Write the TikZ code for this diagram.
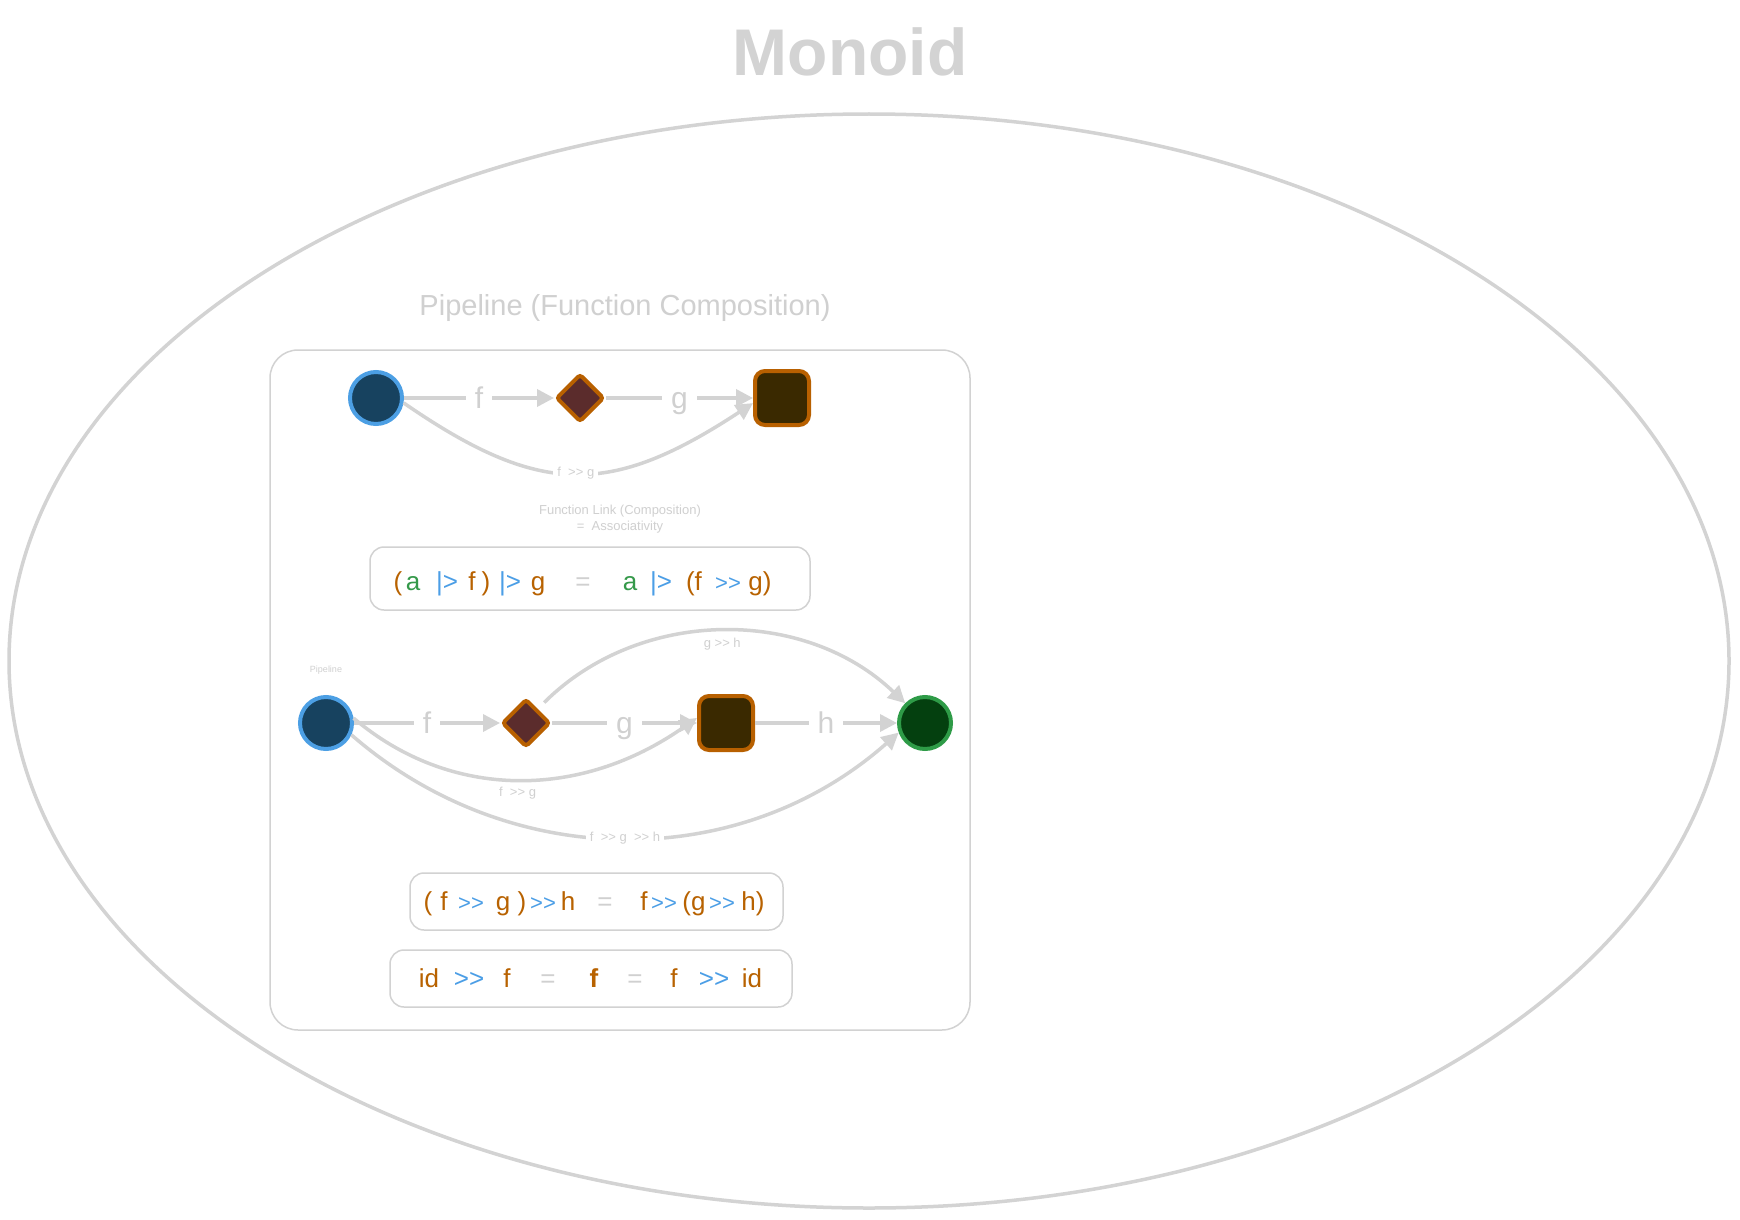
\documentclass[tikz,border=0pt]{standalone}
\usepackage{fontspec}
\setmainfont{Liberation Sans}[Ligatures=TeXOff]
\usetikzlibrary{arrows.meta,shapes.geometric}
\definecolor{lg}{HTML}{D3D3D3}
\definecolor{lgt}{HTML}{D0D0D0}
\definecolor{frameg}{HTML}{D2D2D2}
\definecolor{torange}{HTML}{B86200}
\definecolor{tgreen}{HTML}{35994A}
\definecolor{tblue}{HTML}{4B9EE6}
\newcommand\KO{\color{torange}}
\newcommand\KG{\color{tgreen}}
\newcommand\KB{\color{tblue}}
\newcommand\KE{\color{lgt}}
\newcommand\KS{\fontsize{22}{26}\selectfont}
\begin{document}
\begin{tikzpicture}[x=1pt,y=-1pt,
  outerell/.style={ellipse, draw=lg, line width=3.5pt, inner sep=0pt, minimum width=1720pt, minimum height=1094pt},
  container/.style={draw=frameg, line width=1.5pt, rounded corners=28pt},
  fbox/.style={draw=frameg, line width=1.5pt, rounded corners=14pt, minimum width=#1, inner sep=0pt},
  bcirc/.style={circle, fill=#1, line width=4pt, minimum size=52pt, inner sep=0pt},
  bluenode/.style={bcirc=HTML17425F, draw=blueb},
  greennode/.style={bcirc=greenf, draw=greenb},
  dia/.style={diamond, fill=diaf, draw=ornb, line width=4pt, minimum size=48pt, inner sep=0pt, rounded corners=3pt},
  sq/.style={rectangle, fill=sqf, draw=ornb, line width=4pt, minimum size=54pt, inner sep=0pt, rounded corners=10pt},
  conn/.style={draw=lg, line width=3.5pt, -{Triangle[length=17pt,width=17pt]}},
  elab/.style={fill=white, text=lgt, font=\fontsize{30}{34}\selectfont, inner xsep=9pt, inner ysep=0pt, text height=25pt, text depth=5pt},
  slab/.style={fill=white, text=lgt, font=\fontsize{13}{15}\selectfont, inner xsep=4pt, inner ysep=1pt},
  tok/.style={anchor=base, inner sep=0pt, font=\fontsize{26}{30}\selectfont},
]
\definecolor{blueb}{HTML}{4C9FE4}
\definecolor{HTML17425F}{HTML}{17425F}
\definecolor{greenf}{HTML}{04400F}
\definecolor{greenb}{HTML}{2E9B47}
\definecolor{diaf}{HTML}{5B2C2C}
\definecolor{sqf}{HTML}{3A2900}
\definecolor{ornb}{HTML}{B86000}
\useasboundingbox (0,0) rectangle (1740,1220);
\fill[white] (0,0) rectangle (1740,1220);

% title and outer ellipse
\node[anchor=base, text=lg, font=\fontsize{66}{70}\selectfont\bfseries] (title) at (850,76) {Monoid};
\node[outerell] (outer) at (869,661) {};

% subtitle and container
\node[anchor=base, text=lgt, font=\fontsize{29}{33}\selectfont] (sub) at (625,315) {Pipeline (Function Composition)};
\draw[container] (270,350) rectangle (970,1030);

% top pipeline
\node[bluenode] (c1) at (376,398) {};
\node[dia] (d1) at (580,398) {};
\node[sq] (s1) at (782,398) {};
\draw[conn] (c1) -- node[elab] {f} (d1);
\draw[conn] (d1) -- node[elab] {g} (s1);
\draw[conn] (c1.-10) .. controls (540,497) and (610,497) .. (s1.190)
  node[slab, pos=0.5] {f\ \ >> g};

\node[align=center, text=lgt, font=\fontsize{13}{16}\selectfont] (note) at (620,519)
  {Function Link (Composition)\\=\ \ Associativity};

% formula 1
\node[fbox=440pt, minimum height=63pt] (box1) at (590,578.5) {};
\foreach \x/\t [count=\i] in {398/{\KO(}, 413/{\KG a}, 447/{\KB|>}, 472/{\KO f}, 486/{\KO)},
   510/{\KB|>}, 538/{\KO g}, 583/{\KE=}, 630/{\KG a}, 661/{\KB|>}, 694/{\KO(f},
   728/{\KB\KS>>}, 760/{\KO g)}}
  \node[tok] (fa\i) at (\x,590) {\t};

% bottom pipeline
\node[text=lgt, font=\fontsize{9}{11}\selectfont, anchor=base] (pl) at (326,672) {Pipeline};
\node[bluenode] (c2) at (326,723) {};
\node[dia] (d2) at (526,723) {};
\node[sq] (s2) at (726,723) {};
\node[greennode] (g2) at (925,723) {};
\draw[conn] (c2) -- node[elab] {f} (d2);
\draw[conn] (d2) -- node[elab] {g} (s2);
\draw[conn] (s2) -- node[elab] {h} (g2);
\draw[conn, shorten <=9pt] (d2.50) .. controls (640,607) and (805,607) .. (g2.135)
  node[slab, pos=0.5, anchor=north, fill=none, inner ysep=5pt] {g >> h};
\draw[conn] (c2.10) .. controls (450,800) and (580,800) .. (s2.170)
  node[slab, pos=0.5, anchor=north, fill=none, inner ysep=6pt] {f\ \ >> g};
\draw[conn] (c2.-25) .. controls (510,873) and (740,873) .. (g2.200)
  node[slab, pos=0.5] {f\ \ >> g\ \ >> h};

% formula 2
\node[fbox=373pt, minimum height=57pt] (box2) at (596.5,901.5) {};
\foreach \x/\t [count=\i] in {428/{\KO(}, 444/{\KO f}, 471/{\KB\KS>>}, 503/{\KO g}, 522/{\KO)},
   543/{\KB\KS>>}, 568/{\KO h}, 605/{\KE=}, 644/{\KO f}, 664/{\KB\KS>>}, 694/{\KO(g},
   722/{\KB\KS>>}, 753/{\KO h)}}
  \node[tok] (fb\i) at (\x,910) {\t};

% formula 3
\node[fbox=402pt, minimum height=57pt] (box3) at (591,978.5) {};
\foreach \x/\t [count=\i] in {429/{\KO id}, 469/{\KB>>}, 507/{\KO f}, 548/{\KE=},
   594/{\KO\bfseries f}, 635/{\KE=}, 674/{\KO f}, 714/{\KB>>}, 752/{\KO id}}
  \node[tok] (fc\i) at (\x,987) {\t};
\end{tikzpicture}
\end{document}
